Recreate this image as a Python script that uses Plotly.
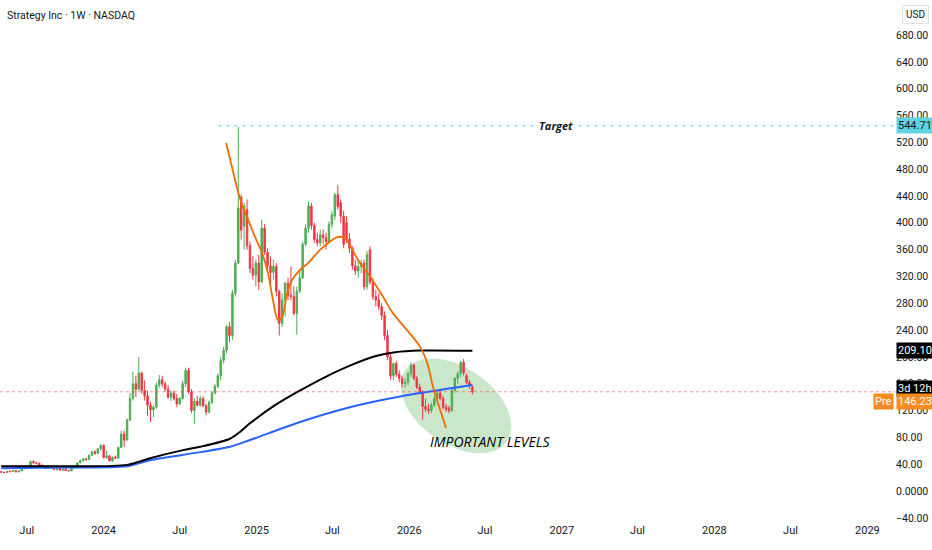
import numpy as np
import pandas as pd
import plotly.graph_objects as go

# weekly candles, Strategy Inc (MSTR)
weeks = pd.date_range("2023-05-01", periods=162, freq="W-MON")

opens = [29.0, 28.0, 27.5, 29.5, 29.0, 30.5, 28.5, 30.0, 34.0, 33.5,
         37.5, 44.0, 42.0, 41.5, 38.0, 37.0, 33.5, 35.0, 34.5, 32.0,
         33.5, 31.0, 33.0, 30.5, 30.0, 34.5, 37.5, 42.0, 45.0, 48.0,
         47.0, 53.5, 58.5, 56.0, 63.0, 68.0, 50.0, 52.5, 45.0, 50.0,
         49.0, 65.0, 85.0, 76.0, 106.0, 138.0, 160.0, 152.0, 176.0, 150.0,
         142.0, 128.0, 121.0, 125.0, 158.0, 166.0, 160.0, 152.0, 140.0, 146.0,
         138.0, 130.0, 138.0, 160.0, 180.0, 148.0, 120.0, 134.0, 128.0, 138.0,
         127.0, 118.0, 132.0, 146.0, 156.0, 172.0, 195.0, 210.0, 245.0, 232.0,
         295.0, 340.0, 438.0, 395.0, 420.0, 366.0, 332.0, 322.0, 340.0, 312.0,
         392.0, 356.0, 336.0, 326.0, 335.0, 298.0, 250.0, 285.0, 310.0, 292.0,
         290.0, 265.0, 298.0, 318.0, 368.0, 392.0, 425.0, 396.0, 375.0, 370.0,
         382.0, 378.0, 372.0, 398.0, 410.0, 442.0, 430.0, 410.0, 400.0, 376.0,
         362.0, 336.0, 328.0, 335.0, 340.0, 305.0, 360.0, 312.0, 290.0, 285.0,
         275.0, 262.0, 232.0, 200.0, 172.0, 190.0, 174.0, 168.0, 160.0, 162.0,
         175.0, 188.0, 168.0, 155.0, 148.0, 126.0, 122.0, 120.0, 128.0, 138.0,
         146.0, 138.0, 125.0, 124.0, 120.0, 150.0, 168.0, 175.0, 192.0, 172.0,
         162.0, 155.0]
highs = [30.0, 29.0, 30.0, 30.5, 31.0, 31.0, 30.5, 34.5, 35.5, 38.0,
         45.0, 46.0, 43.5, 42.5, 40.0, 37.5, 35.5, 37.5, 35.0, 34.0,
         34.0, 33.5, 33.5, 31.5, 35.0, 38.5, 42.5, 47.0, 48.5, 49.5,
         54.0, 60.0, 61.0, 64.0, 69.5, 69.5, 60.0, 53.5, 51.5, 53.0,
         66.0, 90.0, 90.0, 108.0, 146.0, 178.0, 172.0, 200.0, 178.0, 165.0,
         150.0, 133.0, 128.0, 162.0, 173.0, 172.0, 163.0, 158.0, 150.0, 150.0,
         145.0, 140.0, 165.0, 184.0, 184.0, 152.0, 138.0, 142.0, 142.0, 141.0,
         130.0, 135.0, 148.0, 160.0, 175.0, 200.0, 215.0, 248.0, 252.0, 300.0,
         345.0, 543.0, 442.0, 430.0, 435.0, 372.0, 350.0, 345.0, 352.0, 405.0,
         398.0, 362.0, 350.0, 345.0, 340.0, 300.0, 295.0, 312.0, 318.0, 335.0,
         305.0, 305.0, 330.0, 372.0, 398.0, 432.0, 430.0, 400.0, 385.0, 390.0,
         390.0, 385.0, 402.0, 418.0, 445.0, 456.0, 435.0, 418.0, 410.0, 385.0,
         365.0, 345.0, 345.0, 345.0, 345.0, 358.0, 365.0, 318.0, 300.0, 295.0,
         280.0, 268.0, 240.0, 205.0, 192.0, 194.0, 180.0, 172.0, 168.0, 178.0,
         192.0, 190.0, 172.0, 160.0, 150.0, 138.0, 130.0, 132.0, 142.0, 150.0,
         150.0, 142.0, 130.0, 127.0, 152.0, 170.0, 178.0, 194.0, 197.0, 175.0,
         166.0, 158.0]
lows = [27.0, 26.5, 27.0, 28.0, 28.5, 28.0, 28.0, 29.5, 32.5, 33.0,
        37.0, 41.0, 39.5, 37.5, 36.5, 33.0, 32.5, 34.0, 31.5, 31.0,
        30.5, 30.5, 30.0, 29.5, 29.8, 34.0, 37.0, 41.5, 44.0, 45.5,
        46.5, 52.5, 54.0, 55.5, 60.5, 48.5, 48.0, 44.0, 43.5, 47.5,
        48.5, 64.0, 66.0, 75.0, 104.0, 135.0, 140.0, 150.0, 145.0, 135.0,
        112.0, 103.0, 110.0, 123.0, 154.0, 155.0, 148.0, 138.0, 134.0, 135.0,
        125.0, 128.0, 136.0, 155.0, 145.0, 116.0, 100.0, 126.0, 126.0, 125.0,
        113.0, 116.0, 130.0, 144.0, 153.0, 165.0, 190.0, 205.0, 222.0, 225.0,
        290.0, 338.0, 375.0, 360.0, 360.0, 325.0, 315.0, 305.0, 300.0, 310.0,
        352.0, 330.0, 308.0, 315.0, 290.0, 232.0, 245.0, 260.0, 285.0, 285.0,
        262.0, 233.0, 295.0, 316.0, 365.0, 385.0, 390.0, 370.0, 365.0, 365.0,
        368.0, 360.0, 370.0, 392.0, 404.0, 420.0, 400.0, 362.0, 370.0, 355.0,
        330.0, 322.0, 318.0, 325.0, 300.0, 300.0, 308.0, 285.0, 275.0, 270.0,
        255.0, 225.0, 195.0, 166.0, 165.0, 170.0, 162.0, 155.0, 154.0, 158.0,
        170.0, 165.0, 152.0, 145.0, 106.0, 118.0, 115.0, 116.0, 125.0, 135.0,
        135.0, 122.0, 118.0, 116.0, 118.0, 146.0, 160.0, 170.0, 172.0, 160.0,
        152.0, 144.0]
closes = [28.0, 27.5, 29.5, 29.0, 30.5, 28.5, 30.0, 34.0, 33.5, 37.5,
          44.0, 42.0, 41.5, 38.0, 37.0, 33.5, 35.0, 34.5, 32.0, 33.5,
          31.0, 33.0, 30.5, 30.0, 34.5, 37.5, 42.0, 45.0, 48.0, 47.0,
          53.5, 58.5, 56.0, 63.0, 68.0, 50.0, 52.5, 45.0, 50.0, 49.0,
          65.0, 85.0, 76.0, 106.0, 138.0, 160.0, 152.0, 176.0, 150.0, 142.0,
          128.0, 121.0, 125.0, 158.0, 166.0, 160.0, 152.0, 140.0, 146.0, 138.0,
          130.0, 138.0, 160.0, 180.0, 148.0, 120.0, 134.0, 128.0, 138.0, 127.0,
          118.0, 132.0, 146.0, 156.0, 172.0, 195.0, 210.0, 245.0, 232.0, 295.0,
          340.0, 422.0, 389.0, 425.0, 366.0, 332.0, 322.0, 340.0, 312.0, 392.0,
          356.0, 336.0, 326.0, 335.0, 298.0, 250.0, 285.0, 310.0, 292.0, 290.0,
          265.0, 298.0, 318.0, 368.0, 392.0, 425.0, 396.0, 375.0, 370.0, 382.0,
          378.0, 372.0, 398.0, 412.0, 442.0, 424.0, 410.0, 368.0, 376.0, 362.0,
          336.0, 328.0, 335.0, 340.0, 305.0, 352.0, 312.0, 290.0, 285.0, 275.0,
          262.0, 232.0, 200.0, 172.0, 190.0, 174.0, 168.0, 160.0, 162.0, 175.0,
          188.0, 168.0, 155.0, 148.0, 126.0, 122.0, 120.0, 128.0, 138.0, 146.0,
          138.0, 125.0, 122.0, 120.0, 150.0, 168.0, 175.0, 192.0, 176.0, 162.0,
          158.0, 148.0]

# moving-average style lines
black_dates = ["2023-05-01", "2023-09-18", "2024-02-26", "2024-04-21", "2024-07-09",
               "2024-08-19", "2024-10-29", "2024-11-22", "2024-12-16", "2025-02-14",
               "2025-04-15", "2025-06-14", "2025-08-12", "2025-10-11", "2025-11-28",
               "2026-01-27", "2026-06-01"]
black_vals = [37, 37, 39, 49, 61, 66, 78, 88, 101, 128, 150, 170, 187, 201, 207, 209.5, 209.1]

blue_dates = ["2023-05-01", "2023-09-18", "2024-02-26", "2024-04-21", "2024-08-19",
              "2024-10-29", "2024-12-16", "2025-04-15", "2025-08-12", "2025-12-10",
              "2026-06-01"]
blue_vals = [34, 35, 37, 46, 58, 66, 76, 103, 125, 141, 158]

orange_dates = ["2024-10-20", "2024-11-03", "2024-11-15", "2024-11-27", "2024-12-12",
                "2024-12-28", "2025-01-14", "2025-01-28", "2025-02-09", "2025-02-21",
                "2025-03-03", "2025-03-15", "2025-03-27", "2025-04-15", "2025-05-04",
                "2025-06-02", "2025-06-30", "2025-07-15", "2025-07-31", "2025-08-12",
                "2025-08-31", "2025-09-29", "2025-10-30", "2025-11-23", "2025-12-17",
                "2026-01-27", "2026-02-13", "2026-02-27", "2026-03-16", "2026-03-30"]
orange_vals = [519, 483, 452, 427, 404, 379, 355, 325, 285, 255,
               260, 295, 315, 330, 340, 360, 374, 379, 377, 367,
               345, 320, 290, 265, 247, 215, 191, 155, 121, 94]

target = 544.71
last_price = 148.0
pre_price = "146.23"
sma_last = "209.10"

y_ticks = [-40, 0, 40, 80, 120, 160, 200, 240, 280, 320, 360, 400, 440, 480, 520, 560, 600, 640, 680]
y_text = ["−40.00", "0.0000", "40.00", "80.00", "120.00", "160.00", "200.00", "240.00", "280.00",
          "320.00", "360.00", "400.00", "440.00", "480.00", "520.00", "560.00", "600.00", "640.00", "680.00"]
x_ticks = ["2023-07-01", "2024-01-01", "2024-07-01", "2025-01-01", "2025-07-01", "2026-01-01",
           "2026-07-01", "2027-01-01", "2027-07-01", "2028-01-01", "2028-07-01", "2029-01-01"]
x_text = ["Jul", "2024", "Jul", "2025", "Jul", "2026", "Jul", "2027", "Jul", "2028", "Jul", "2029"]

FONT = "Roboto, sans-serif"
GREEN = "#4caf50"
RED = "#f23645"


def ellipse_path(a, b, deg):
    # rotated ellipse as 4 cubic beziers, pixel offsets (y up)
    k = 0.5523
    t = np.radians(deg)
    c, s = np.cos(t), np.sin(t)
    pts = [(a, 0), (a, k * b), (k * a, b), (0, b), (-k * a, b), (-a, k * b), (-a, 0),
           (-a, -k * b), (-k * a, -b), (0, -b), (k * a, -b), (a, -k * b), (a, 0)]
    rp = [(px * c - py * s, px * s + py * c) for px, py in pts]
    d = "M %.1f,%.1f" % rp[0]
    for i in range(1, 13, 3):
        d += " C %.1f,%.1f %.1f,%.1f %.1f,%.1f" % (rp[i] + rp[i + 1] + rp[i + 2])
    return d + " Z"


fig = go.Figure()

fig.add_trace(go.Scatter(x=blue_dates, y=blue_vals, mode="lines",
                         line=dict(color="#2962ff", width=2, shape="spline", smoothing=0.8),
                         hoverinfo="skip"))
fig.add_trace(go.Scatter(x=black_dates, y=black_vals, mode="lines",
                         line=dict(color="#000000", width=2, shape="spline", smoothing=0.8),
                         hoverinfo="skip"))
fig.add_trace(go.Candlestick(x=weeks, open=opens, high=highs, low=lows, close=closes,
                             increasing=dict(line=dict(color=GREEN, width=1), fillcolor=GREEN),
                             decreasing=dict(line=dict(color=RED, width=1), fillcolor=RED),
                             whiskerwidth=0))
fig.add_trace(go.Scatter(x=orange_dates, y=orange_vals, mode="lines",
                         line=dict(color="#ef6c00", width=1.8, shape="spline", smoothing=0.9),
                         hoverinfo="skip"))

# green ellipse around the lows
fig.add_shape(type="path", xref="x", yref="y", xsizemode="pixel", ysizemode="pixel",
              xanchor="2026-04-23", yanchor=127, path=ellipse_path(62, 38, -35),
              fillcolor="rgba(102,187,106,0.35)", line=dict(width=0), layer="below")

# target and last price lines
fig.add_shape(type="line", xref="x", yref="y", x0="2024-10-01", x1="2029-03-08",
              y0=target, y1=target, line=dict(color="#80deea", width=1.5, dash="3px,5px"))
fig.add_shape(type="line", xref="paper", yref="y", x0=0, x1=1, y0=last_price, y1=last_price,
              line=dict(color="rgba(242,54,69,0.55)", width=1, dash="dot"))

ann = [
    dict(x=0, y=1, xref="paper", yref="paper", xanchor="left", yanchor="top", xshift=5, yshift=-7,
         text="Strategy Inc · 1W · NASDAQ", font=dict(size=10.5, color="#131722", family=FONT)),
    dict(x=1, y=1, xref="paper", yref="paper", xanchor="left", yanchor="top", xshift=7, yshift=-5,
         text="USD", bordercolor="#e0e3eb", borderwidth=1, borderpad=3,
         font=dict(size=10, color="#131722", family=FONT)),
    dict(x="2026-12-18", y=target, xref="x", yref="y", text="<b><i>Target</i></b>",
         bgcolor="white", font=dict(size=11, color="#131722", family="Open Sans")),
    dict(x="2026-07-13", y=74.6, xref="x", yref="y", text="<i>IMPORTANT LEVELS</i>",
         font=dict(size=14, color="#000000", family="Open Sans")),
    dict(x=1, y=target, xref="paper", yref="y", xanchor="left", xshift=1, text="544.71",
         bgcolor="#5fd3e0", borderpad=1, font=dict(size=11, color="#131722", family=FONT)),
    dict(x=1, y=209.1, xref="paper", yref="y", xanchor="left", xshift=1, text=sma_last,
         bgcolor="#000000", borderpad=1, font=dict(size=11, color="white", family=FONT)),
    dict(x=1, y=last_price, xref="paper", yref="y", xanchor="left", xshift=1, yshift=3,
         text="3d 12h", bgcolor="#000000", borderpad=1, font=dict(size=11, color="white", family=FONT)),
    dict(x=1, y=last_price, xref="paper", yref="y", xanchor="left", xshift=1, yshift=-10,
         text=pre_price, bgcolor="#f68b1f", borderpad=1, font=dict(size=11, color="white", family=FONT)),
    dict(x=1, y=last_price, xref="paper", yref="y", xanchor="right", xshift=-1, yshift=-10,
         text="Pre", bgcolor="#f68b1f", borderpad=1, font=dict(size=11, color="white", family=FONT)),
]
for a in ann:
    a["showarrow"] = False
    fig.add_annotation(**a)

fig.update_layout(
    width=932, height=550,
    margin=dict(l=0, r=37, t=0, b=28),
    paper_bgcolor="white", plot_bgcolor="white",
    showlegend=False,
    xaxis=dict(range=["2023-04-28", "2029-03-08"], rangeslider=dict(visible=False),
               tickvals=x_ticks, ticktext=x_text, showgrid=False, zeroline=False,
               ticks="", automargin=False, tickfont=dict(size=11, color="#131722", family=FONT)),
    yaxis=dict(range=[-46.2, 732.3], side="right", tickvals=y_ticks, ticktext=y_text,
               showgrid=False, zeroline=False, ticks="", automargin=False,
               tickfont=dict(size=10.5, color="#131722", family=FONT)),
)

# page body margin would push the 932x550 figure off the window
fig.write_html("out.html", config={"displayModeBar": False},
               post_script="document.body.style.margin='0';")
